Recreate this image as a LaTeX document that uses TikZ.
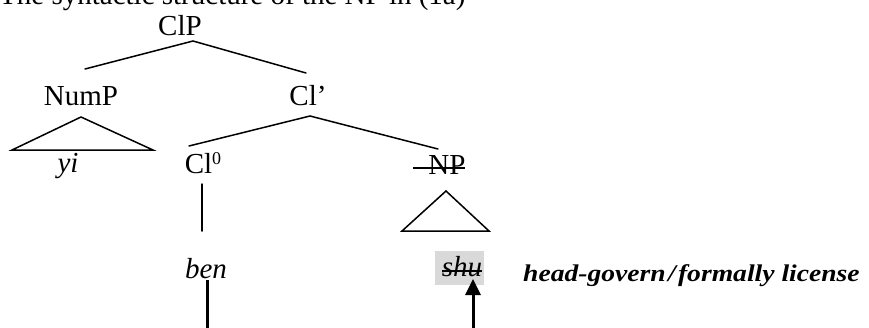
\documentclass[tikz,border=0pt]{standalone}
\usepackage{fontspec}
\setmainfont{Liberation Serif}
\usetikzlibrary{arrows.meta}
\begin{document}
\begin{tikzpicture}[x=1pt,y=-1pt,
  treetext/.style={inner sep=0pt,anchor=base,font=\fontsize{29}{34}\selectfont},
  leaftext/.style={treetext,font=\fontsize{29}{34}\selectfont\itshape},
  branch/.style={line width=1.5pt,line cap=round,line join=miter},
  govline/.style={line width=3pt},
  govarrow/.style={line width=3pt,-{Triangle[width=15pt,length=16pt]}},
  striker/.style={line width=1.3pt},
  notelabel/.style={inner sep=0pt,anchor=base west,font=\fontsize{24}{28}\selectfont\bfseries\itshape}
]
\useasboundingbox (0,0) rectangle (869,327);

% caption line, partly above the page edge
\node[inner sep=0pt,anchor=base west,font=\fontsize{29}{34}\selectfont] (caption) at (-1,4)
  {The syntactic structure of the NP in (1a)};

% category labels
\node[treetext] (clp)  at (180,35)  {ClP};
\node[treetext] (nump) at (81,105)  {NumP};
\node[treetext] (clbar) at (308,105) {Cl’};
\node[treetext] (clzero) at (203,173) {Cl{\fontsize{18}{20}\selectfont\raisebox{9pt}{0}}};
\node[treetext] (np)   at (447,174) {NP};

% shaded box behind the elided noun
\fill[black!15] (435,251) rectangle (484,285);

% words
\node[leaftext] (yi)  at (68,172)  {yi};
\node[leaftext] (ben) at (206,278) {ben};
\node[leaftext] (shu) at (462,276) {shu};

% branch end points
\coordinate (clp-top)   at (193,41);
\coordinate (clp-l)     at (85,69);
\coordinate (clp-r)     at (306,73);
\coordinate (clbar-top) at (310,116);
\coordinate (clbar-l)   at (189,146);
\coordinate (clbar-r)   at (438,149);
\coordinate (num-apex)  at (81,117);
\coordinate (num-bl)    at (12,150);
\coordinate (num-br)    at (153,150);
\coordinate (np-apex)   at (446,191);
\coordinate (np-bl)     at (402,231);
\coordinate (np-br)     at (489,231);
\coordinate (cl-top)    at (202,184);
\coordinate (cl-bot)    at (202,231);

\draw[branch] (clp-l) -- (clp-top) -- (clp-r);
\draw[branch] (clbar-l) -- (clbar-top) -- (clbar-r);
\draw[branch] (num-apex) -- (num-bl) -- (num-br) -- cycle;
\draw[branch] (np-apex) -- (np-bl) -- (np-br) -- cycle;
\draw[branch] (cl-top) -- (cl-bot);

% strike-through marks for the deleted phrase
\coordinate (np-s1) at (413,168);
\coordinate (np-s2) at (465,168);
\draw[striker] (np-s1) -- (np-s2);
\coordinate (shu-s1) at (442,271);
\coordinate (shu-s2) at (482,271);
\draw[striker] (shu-s1) -- (shu-s2);

% government path from ben to shu, its base run along the page edge
\coordinate (gov-l-top) at (207,280);
\coordinate (gov-l-bot) at (207,329);
\coordinate (gov-r-bot) at (473,329);
\coordinate (gov-r-top) at (473,279);
\draw[govline] (gov-l-top) -- (gov-l-bot) -- (gov-r-bot);
\draw[govarrow] (gov-r-bot) -- (gov-r-top);

\node[notelabel] (govnote) at (523,281)
  {\scalebox{1.15}[1]{head-govern\kern2pt/\kern2pt formally license}};
\end{tikzpicture}
\end{document}
